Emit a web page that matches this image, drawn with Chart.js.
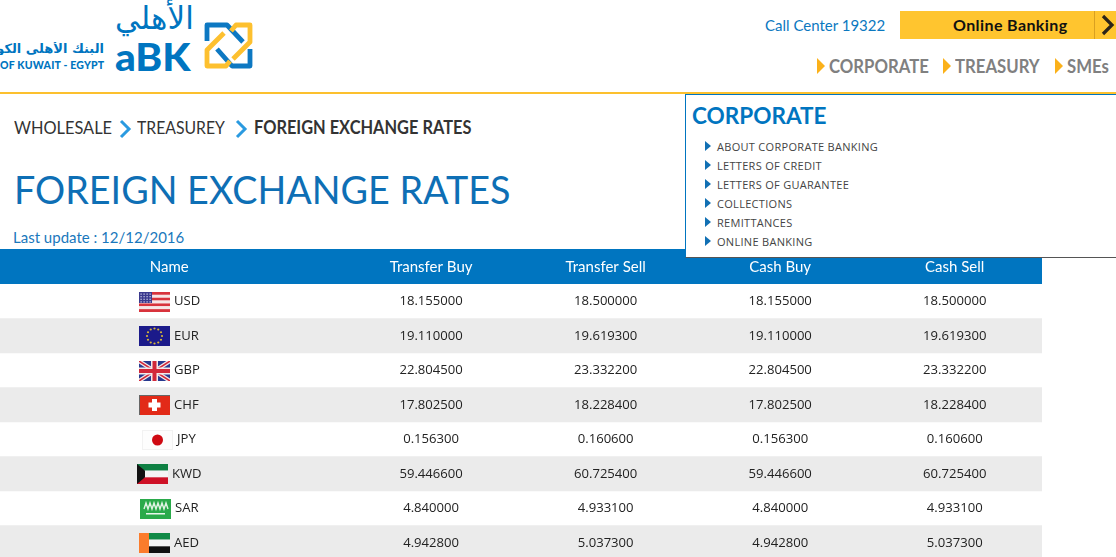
<!DOCTYPE html>
<html>
<head>
<meta charset="utf-8">
<title>Foreign Exchange Rates</title>
<script src="https://cdn.jsdelivr.net/npm/chart.js@4"></script>
<style>
  html, body { margin: 0; padding: 0; width: 1116px; height: 557px; overflow: hidden; background: #fff; }
  body { position: relative; font-family: Lato, "Open Sans", sans-serif; }
  .t { position: absolute; white-space: nowrap; line-height: 1; transform-origin: left center; }
  .tri { position: absolute; width: 0; height: 0; border-style: solid; border-color: transparent; }
  #rates { position: absolute; left: 0; top: 249px; }
  #rule { position: absolute; left: 0; top: 92px; width: 1116px; height: 2px; background: #fcc02e; }
  #menu { position: absolute; left: 685px; top: 94px; width: 431px; height: 164px; box-sizing: border-box; background: #fff;
          border: 1px solid #0075c0; border-right: 0; border-bottom-color: #555; z-index: 5; }
  #btn { position: absolute; left: 900px; top: 11px; width: 216px; height: 28px; background: #ffc52f; }
  #logo { position: absolute; left: 0; top: 0; }
  svg { position: absolute; overflow: visible; }
  .item { font-family: "Open Sans", sans-serif; font-size: 11px; color: #444; letter-spacing: .3px; }
  .nav { font-weight: 700; color: #808080; font-size: 18px; transform: scaleX(.93); }
  .crumb { font-size: 18px; color: #333; }
</style>
</head>
<body>

<!-- logo -->
<div class="t" style="left:-22px;top:42px;width:126px;text-align:right;overflow:hidden;font-family:'DejaVu Sans';font-size:13px;color:#0075c0;font-weight:700;direction:rtl">البنك الأهلي الكويتي</div>
<div class="t" style="left:0;top:60px;font-weight:900;font-size:10.5px;color:#0075c0;letter-spacing:.2px">OF KUWAIT - EGYPT</div>
<div class="t" style="left:115px;top:3px;font-family:'DejaVu Sans';font-size:31px;color:#0075c0">الأهلي</div>
<div class="t" style="left:115px;top:37px;font-weight:900;font-size:38px;color:#0075c0;transform:scaleX(1.07)">aBK</div>
<svg id="logo" width="260" height="80" fill="none" stroke-width="4.8" stroke-linejoin="round">
  <path d="M207 41V25H227L243 42" stroke="#0d78c2"/>
  <path d="M231 31L236 25H250V42L233 59" stroke="#fdc02f"/>
  <path d="M217 49L232 66H250V49" stroke="#0d78c2"/>
  <path d="M224 33L207 50V66H226L230 61" stroke="#fdc02f"/>
</svg>

<!-- top bar -->
<div class="t" style="left:765px;top:18px;font-size:15px;color:#0b78bf">Call Center 19322</div>
<div id="btn"></div>
<div class="t" style="left:953px;top:17px;font-size:16px;font-weight:700;color:#111;letter-spacing:.4px">Online Banking</div>
<div style="position:absolute;left:1094px;top:11px;width:1px;height:28px;background:#d9a021"></div>
<svg width="20" height="20" style="left:1100px;top:15px" fill="none"><path d="M3 1L12 10L3 19" stroke="#2b2418" stroke-width="3.2"/></svg>

<div class="tri" style="left:817px;top:58px;border-width:8px 0 8px 8px;border-left-color:#fbb11a"></div>
<div class="t nav" style="left:829px;top:57px">CORPORATE</div>
<div class="tri" style="left:943px;top:58px;border-width:8px 0 8px 8px;border-left-color:#fbb11a"></div>
<div class="t nav" style="left:955px;top:57px">TREASURY</div>
<div class="tri" style="left:1055px;top:58px;border-width:8px 0 8px 8px;border-left-color:#fbb11a"></div>
<div class="t nav" style="left:1067px;top:57px">SMEs</div>
<div id="rule"></div>

<!-- breadcrumb and heading -->
<div class="t crumb" style="left:14px;top:118px;transform:scaleX(.91)">WHOLESALE</div>
<svg width="14" height="20" style="left:119px;top:120px" fill="none"><path d="M2 1L10 9L2 17" stroke="#2a9ae0" stroke-width="3"/></svg>
<div class="t crumb" style="left:137px;top:118px;transform:scaleX(.875)">TREASUREY</div>
<svg width="14" height="20" style="left:235px;top:120px" fill="none"><path d="M2 1L10 9L2 17" stroke="#2a9ae0" stroke-width="3"/></svg>
<div class="t crumb" style="left:254px;top:118px;font-weight:700;transform:scaleX(.91)">FOREIGN EXCHANGE RATES</div>
<div class="t" style="left:14px;top:171px;font-size:37.7px;color:#0e6fb5">FOREIGN EXCHANGE RATES</div>
<div class="t" style="left:13px;top:230px;font-size:15px;color:#1a78bc">Last update : 12/12/2016</div>

<!-- fly-out menu -->
<div id="menu">
  <div class="t" style="left:6px;top:9px;font-size:23px;font-weight:700;color:#0075c0;transform:scaleX(.98)">CORPORATE</div>
  <div class="tri" style="left:19px;top:46px;border-width:5px 0 5px 6px;border-left-color:#1170b4"></div>
  <div class="t item" style="left:31px;top:46px">ABOUT CORPORATE BANKING</div>
  <div class="tri" style="left:19px;top:65px;border-width:5px 0 5px 6px;border-left-color:#1170b4"></div>
  <div class="t item" style="left:31px;top:65px">LETTERS OF CREDIT</div>
  <div class="tri" style="left:19px;top:84px;border-width:5px 0 5px 6px;border-left-color:#1170b4"></div>
  <div class="t item" style="left:31px;top:84px">LETTERS OF GUARANTEE</div>
  <div class="tri" style="left:19px;top:103px;border-width:5px 0 5px 6px;border-left-color:#1170b4"></div>
  <div class="t item" style="left:31px;top:103px">COLLECTIONS</div>
  <div class="tri" style="left:19px;top:122px;border-width:5px 0 5px 6px;border-left-color:#1170b4"></div>
  <div class="t item" style="left:31px;top:122px">REMITTANCES</div>
  <div class="tri" style="left:19px;top:141px;border-width:5px 0 5px 6px;border-left-color:#1170b4"></div>
  <div class="t item" style="left:31px;top:141px">ONLINE BANKING</div>
</div>

<canvas id="rates" width="1116" height="311"></canvas>

<script>
const columnNames = ['Name', 'Transfer Buy', 'Transfer Sell', 'Cash Buy', 'Cash Sell'];
const currencies = ['USD', 'EUR', 'GBP', 'CHF', 'JPY', 'KWD', 'SAR', 'AED'];
const transferBuy = [18.1550, 19.1100, 22.8045, 17.8025, 0.1563, 59.4466, 4.8400, 4.9428];
const transferSell = [18.5000, 19.6193, 23.3322, 18.2284, 0.1606, 60.7254, 4.9331, 5.0373];
const cashBuy = [18.1550, 19.1100, 22.8045, 17.8025, 0.1563, 59.4466, 4.8400, 4.9428];
const cashSell = [18.5000, 19.6193, 23.3322, 18.2284, 0.1606, 60.7254, 4.9331, 5.0373];

// x axis is in column units, the name column sits 1.5 columns before the first rate
const nameSpot = -1.5;
const rateSpots = [0, 1, 2, 3];
const xMin = -2.47;
const xMax = 3.5;
const rateSeries = [transferBuy, transferSell, cashBuy, cashSell];

const cellFont = '13.1px "Open Sans"';
const flagW = 31;
const flagH = 20;

function stripes(ctx, x, y, w, h, colors) {
  colors.forEach((c, i) => {
    ctx.fillStyle = c;
    ctx.fillRect(x, y + i * h / colors.length, w, h / colors.length);
  });
}

// little flags, drawn from the top left corner of the flag cell
const flags = {
  USD(ctx, x, y, w, h) {
    stripes(ctx, x, y, w, h, ['#d8333c', '#f6e6e6', '#d8333c', '#f6e6e6', '#d8333c', '#f6e6e6', '#d8333c']);
    ctx.fillStyle = '#3b3a8e';
    ctx.fillRect(x, y, w * 0.42, h * 0.55);
    ctx.fillStyle = '#dcdcf0';
    for (let r = 0; r < 4; r++) for (let c = 0; c < 4; c++) ctx.fillRect(x + 1.5 + c * 3, y + 1.5 + r * 2.6, 1.2, 1.2);
  },
  EUR(ctx, x, y, w, h) {
    ctx.fillStyle = '#1b1a8a';
    ctx.fillRect(x, y, w, h);
    ctx.fillStyle = '#d7b53a';
    for (let a = 0; a < 12; a++) {
      ctx.beginPath();
      ctx.arc(x + w / 2 + Math.cos(a * Math.PI / 6) * 7.5, y + h / 2 + Math.sin(a * Math.PI / 6) * 7.5, 1.1, 0, 7);
      ctx.fill();
    }
  },
  GBP(ctx, x, y, w, h) {
    ctx.fillStyle = '#27398f';
    ctx.fillRect(x, y, w, h);
    const diag = (color, width) => {
      ctx.strokeStyle = color;
      ctx.lineWidth = width;
      ctx.beginPath();
      ctx.moveTo(x, y); ctx.lineTo(x + w, y + h);
      ctx.moveTo(x + w, y); ctx.lineTo(x, y + h);
      ctx.stroke();
    };
    ctx.save();
    ctx.beginPath();
    ctx.rect(x, y, w, h);
    ctx.clip();
    diag('#f2e9ea', 4);
    diag('#d2283a', 1.5);
    ctx.fillStyle = '#f2e9ea';
    ctx.fillRect(x + w / 2 - 3.5, y, 7, h);
    ctx.fillRect(x, y + h / 2 - 3.5, w, 7);
    ctx.fillStyle = '#d2283a';
    ctx.fillRect(x + w / 2 - 2, y, 4, h);
    ctx.fillRect(x, y + h / 2 - 2, w, 4);
    ctx.restore();
  },
  CHF(ctx, x, y, w, h) {
    ctx.fillStyle = '#e22a18';
    ctx.fillRect(x, y, w, h);
    ctx.fillStyle = '#666';
    ctx.fillRect(x, y, w, 1);
    ctx.fillRect(x, y, 1, h);
    ctx.fillStyle = '#fff';
    ctx.fillRect(x + w / 2 - 2.5, y + 4, 5, h - 8);
    ctx.fillRect(x + w / 2 - 6, y + h / 2 - 2.5, 12, 5);
  },
  JPY(ctx, x, y, w, h) {
    ctx.fillStyle = '#fdfdfd';
    ctx.fillRect(x, y, w, h);
    ctx.strokeStyle = '#f2f2f2';
    ctx.lineWidth = 1;
    ctx.strokeRect(x + 0.5, y + 0.5, w - 1, h - 1);
    ctx.fillStyle = '#cf0a12';
    ctx.beginPath();
    ctx.arc(x + w / 2, y + h / 2, 5.5, 0, 7);
    ctx.fill();
  },
  KWD(ctx, x, y, w, h) {
    stripes(ctx, x, y, w, h, ['#0e8043', '#f4f4f4', '#ce1126']);
    ctx.fillStyle = '#111';
    ctx.beginPath();
    ctx.moveTo(x, y);
    ctx.lineTo(x + 8, y + h / 3);
    ctx.lineTo(x + 8, y + 2 * h / 3);
    ctx.lineTo(x, y + h);
    ctx.fill();
  },
  SAR(ctx, x, y, w, h) {
    ctx.fillStyle = '#2aaa4a';
    ctx.fillRect(x, y, w, h);
    // the script on the flag is only a blur at this size
    ctx.strokeStyle = '#dff3e3';
    ctx.lineWidth = 1.4;
    ctx.beginPath();
    for (let i = 0; i <= 12; i++) ctx.lineTo(x + 4 + i * 2, y + (i % 2 ? 4 : 10));
    ctx.stroke();
    ctx.fillStyle = '#e9f7ec';
    ctx.fillRect(x + 6, y + 14, w - 12, 1.5);
  },
  AED(ctx, x, y, w, h) {
    stripes(ctx, x, y, w, h, ['#0f8a46', '#f6f6f6', '#111']);
    ctx.fillStyle = '#fb7c2c';
    ctx.fillRect(x, y, 10, h);
  }
};

const tableText = {
  id: 'tableText',
  afterDatasetsDraw(chart) {
    const { ctx, scales } = chart;
    ctx.save();
    ctx.font = cellFont;
    ctx.fillStyle = '#222';
    ctx.textBaseline = 'middle';

    // rate cells sit on the scatter points
    ctx.textAlign = 'center';
    chart.data.datasets.forEach((ds, d) => {
      if (!ds.rates) return;
      chart.getDatasetMeta(d).data.forEach((pt, i) => {
        ctx.fillText(ds.rates[i].toFixed(6), pt.x, pt.y + 0.5);
      });
    });

    // name column: flag and code centred together
    ctx.textAlign = 'left';
    const cx = scales.x.getPixelForValue(nameSpot);
    currencies.forEach((code, i) => {
      const cy = scales.y.getPixelForValue(i);
      const textW = ctx.measureText(code).width;
      const left = Math.round(cx - (flagW + 4 + textW) / 2);
      flags[code](ctx, left, Math.round(cy - flagH / 2 + 0.5), flagW, flagH);
      ctx.fillStyle = '#222';
      ctx.fillText(code, left + flagW + 4, cy + 0.5);
    });
    ctx.restore();
  }
};

new Chart(document.getElementById('rates'), {
  type: 'bar',
  plugins: [tableText],
  data: {
    labels: currencies,
    datasets: [
      {
        label: 'rows',
        data: currencies.map((c, i) => (i % 2 ? [xMin, xMax] : null)),
        backgroundColor: '#ebebeb',
        barPercentage: 1,
        categoryPercentage: 1,
        order: 5
      },
      ...rateSeries.map((rates, k) => ({
        type: 'scatter',
        label: columnNames[k + 1],
        rates: rates,
        data: currencies.map(c => ({ x: rateSpots[k], y: c })),
        pointRadius: 0
      }))
    ]
  },
  options: {
    indexAxis: 'y',
    responsive: false,
    animation: false,
    events: [],
    layout: { padding: { left: 0, right: 74, top: 0, bottom: 0 } },
    plugins: { legend: { display: false }, tooltip: { enabled: false } },
    scales: {
      x: {
        type: 'linear',
        position: 'top',
        min: xMin,
        max: xMax,
        backgroundColor: '#0075c0',
        grid: { display: false, drawTicks: false },
        border: { display: false },
        afterBuildTicks: scale => {
          scale.ticks = [nameSpot, ...rateSpots].map(v => ({ value: v }));
        },
        afterFit: scale => { scale.height = 35; },
        ticks: {
          autoSkip: false,
          maxRotation: 0,
          color: '#fff',
          padding: 8,
          font: { family: 'Lato', size: 15 },
          callback: value => columnNames[[nameSpot, ...rateSpots].indexOf(value)]
        }
      },
      y: {
        type: 'category',
        display: false,
        offset: true,
        grid: { display: false }
      }
    }
  }
});
</script>
</body>
</html>
